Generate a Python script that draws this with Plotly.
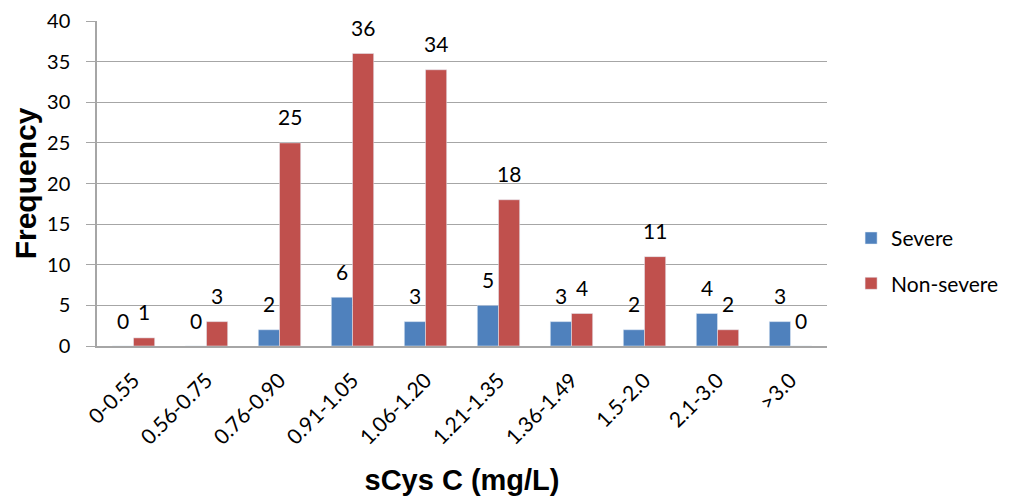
import plotly.graph_objects as go

categories = ["0-0.55", "0.56-0.75", "0.76-0.90", "0.91-1.05", "1.06-1.20",
              "1.21-1.35", "1.36-1.49", "1.5-2.0", "2.1-3.0", ">3.0"]
severe = [0, 0, 2, 6, 3, 5, 3, 2, 4, 3]
non_severe = [1, 3, 25, 36, 34, 18, 4, 11, 2, 0]
y_ticks = [0, 5, 10, 15, 20, 25, 30, 35, 40]

font_main = "Lato, Open Sans, sans-serif"
font_bold = "Liberation Sans, Arial, sans-serif"
FS = 21

fig = go.Figure()
fig.add_trace(go.Bar(
    x=categories, y=severe, name="Severe", marker_color="#4F81BD",
    cliponaxis=False, legendgroup="a",
))
fig.add_trace(go.Bar(
    x=categories, y=non_severe, name="Non-severe", marker_color="#C0504D",
    cliponaxis=False, legendgroup="b",
))

annotations = []
for series, xs in ((severe, -10.5), (non_severe, 10.5)):
    for cat, v in zip(categories, series):
        annotations.append(dict(
            x=cat, y=v, xref="x", yref="y", text=str(v), showarrow=False,
            xshift=xs, yshift=26, yanchor="middle", xanchor="center",
            font=dict(size=FS, family=font_main, color="#000000"),
        ))

fig.update_layout(
    width=1001, height=495,
    margin=dict(l=89, r=182, t=13, b=157, autoexpand=False),
    paper_bgcolor="white", plot_bgcolor="white",
    barmode="group", bargap=0.42, bargroupgap=0,
    font=dict(family=font_main, size=FS, color="#000000"),
    showlegend=True,
    legend=dict(x=1.033, y=0.262, xanchor="left", yanchor="middle",
                font=dict(size=FS, family=font_main), tracegroupgap=15,
                traceorder="grouped"),
    annotations=annotations,
)
fig.update_xaxes(
    tickangle=-45, tickfont=dict(size=FS, family=font_main),
    showline=True, linecolor="#A6A6A6", linewidth=1.5,
    title=dict(text="<b>sCys C (mg/L)</b>", font=dict(size=29, family=font_bold), standoff=22),
    showgrid=False, ticks="", automargin=False, ticklabelstandoff=12,
)
fig.update_yaxes(
    range=[0, 40], tickvals=y_ticks, tickfont=dict(size=20, family=font_main),
    showgrid=True, gridcolor="#A6A6A6", gridwidth=1.2,
    showline=True, linecolor="#A6A6A6", linewidth=1.5,
    zeroline=False, ticks="outside", ticklen=9, tickcolor="#A6A6A6",
    ticklabelstandoff=12, ticklabeloverflow="allow",
    title=dict(text="<b>Frequency</b>", font=dict(size=30, family=font_bold), standoff=2),
    automargin=False,
)

fig.write_html("out.html")
